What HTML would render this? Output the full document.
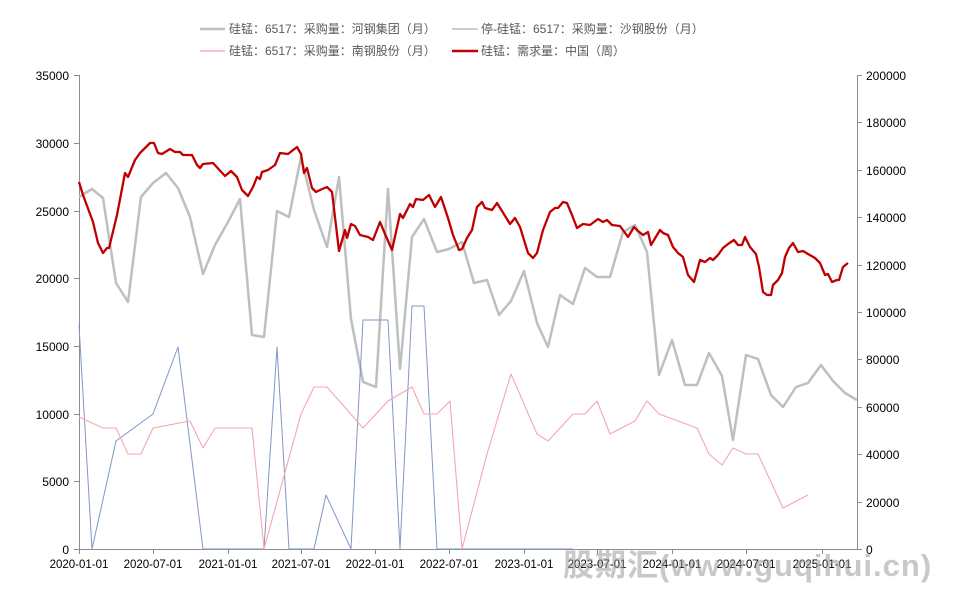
<!DOCTYPE html>
<html><head><meta charset="utf-8"><style>
html,body{margin:0;padding:0;background:#fff;}
svg{display:block;}
text{font-family:"Liberation Sans","Noto Sans CJK SC",sans-serif;}
</style></head><body>
<svg width="962" height="594" viewBox="0 0 962 594" xmlns="http://www.w3.org/2000/svg">
<!-- legend -->
<g font-size="12" fill="#595959">
<line x1="200" y1="29" x2="225" y2="29" stroke="#bfbfbf" stroke-width="2.5"/>
<text x="229" y="33">硅锰：6517：采购量：河钢集团（月）</text>
<line x1="452" y1="29" x2="478" y2="29" stroke="#b4bccb" stroke-width="1.5"/>
<text x="481" y="33">停-硅锰：6517：采购量：沙钢股份（月）</text>
<line x1="200" y1="51" x2="225" y2="51" stroke="#f4a6b0" stroke-width="1.2"/>
<text x="229" y="55">硅锰：6517：采购量：南钢股份（月）</text>
<line x1="452" y1="51" x2="478" y2="51" stroke="#c00000" stroke-width="2.5"/>
<text x="481" y="55">硅锰：需求量：中国（周）</text>
</g>
<!-- axes -->
<g stroke="#8c8c8c" stroke-width="1">
<line x1="79.5" y1="75" x2="79.5" y2="549"/>
<line x1="857.5" y1="75" x2="857.5" y2="549"/>
<line x1="79" y1="549.5" x2="857" y2="549.5"/>
<line x1="74" y1="75.5" x2="79" y2="75.5"/><line x1="74" y1="143.5" x2="79" y2="143.5"/><line x1="74" y1="211.5" x2="79" y2="211.5"/><line x1="74" y1="278.5" x2="79" y2="278.5"/><line x1="74" y1="346.5" x2="79" y2="346.5"/><line x1="74" y1="414.5" x2="79" y2="414.5"/><line x1="74" y1="481.5" x2="79" y2="481.5"/><line x1="74" y1="549.5" x2="79" y2="549.5"/>
<line x1="857" y1="75.5" x2="862" y2="75.5"/><line x1="857" y1="122.5" x2="862" y2="122.5"/><line x1="857" y1="170.5" x2="862" y2="170.5"/><line x1="857" y1="217.5" x2="862" y2="217.5"/><line x1="857" y1="265.5" x2="862" y2="265.5"/><line x1="857" y1="312.5" x2="862" y2="312.5"/><line x1="857" y1="359.5" x2="862" y2="359.5"/><line x1="857" y1="407.5" x2="862" y2="407.5"/><line x1="857" y1="454.5" x2="862" y2="454.5"/><line x1="857" y1="502.5" x2="862" y2="502.5"/><line x1="857" y1="549.5" x2="862" y2="549.5"/>
<line x1="79.5" y1="549" x2="79.5" y2="554"/><line x1="153.5" y1="549" x2="153.5" y2="554"/><line x1="228.5" y1="549" x2="228.5" y2="554"/><line x1="301.5" y1="549" x2="301.5" y2="554"/><line x1="375.5" y1="549" x2="375.5" y2="554"/><line x1="449.5" y1="549" x2="449.5" y2="554"/><line x1="524.5" y1="549" x2="524.5" y2="554"/><line x1="597.5" y1="549" x2="597.5" y2="554"/><line x1="672.5" y1="549" x2="672.5" y2="554"/><line x1="746.5" y1="549" x2="746.5" y2="554"/><line x1="822.5" y1="549" x2="822.5" y2="554"/>
</g>
<g font-size="12" fill="#000" text-anchor="end">
<text x="69" y="80">35000</text><text x="69" y="148">30000</text><text x="69" y="216">25000</text><text x="69" y="283">20000</text><text x="69" y="351">15000</text><text x="69" y="419">10000</text><text x="69" y="486">5000</text><text x="69" y="554">0</text>
</g>
<g font-size="12" fill="#000">
<text x="866" y="80">200000</text><text x="866" y="127">180000</text><text x="866" y="175">160000</text><text x="866" y="222">140000</text><text x="866" y="270">120000</text><text x="866" y="317">100000</text><text x="866" y="364">80000</text><text x="866" y="412">60000</text><text x="866" y="459">40000</text><text x="866" y="507">20000</text><text x="866" y="554">0</text>
</g>
<g font-size="11.5" fill="#000" text-anchor="middle">
<text x="79" y="568">2020-01-01</text><text x="153" y="568">2020-07-01</text><text x="228" y="568">2021-01-01</text><text x="301" y="568">2021-07-01</text><text x="375" y="568">2022-01-01</text><text x="449" y="568">2022-07-01</text><text x="524" y="568">2023-01-01</text><text x="597" y="568">2023-07-01</text><text x="672" y="568">2024-01-01</text><text x="746" y="568">2024-07-01</text><text x="822" y="568">2025-01-01</text>
</g>
<!-- gray 河钢 -->
<polyline fill="none" stroke="#bfbfbf" stroke-width="2.5" stroke-linejoin="round" points="79,197 92,189 103,198 116,283 128,302 141,197 153,183 166,173 178,188 190,217 203,274 215,245 228,222 240,199 252,335 264,337 277,211 289,217 301,157 314,210 327,247 339,177 351,319 363,382 376,387 388,189 400,369 412,237 424,219 437,252 449,249 462,242 474,283 487,280 499,315 511,301 524,271 537,323 548,347 560,295 573,304 585,268 597,277 610,277 623,232 635,225 647,252 659,375 672,340 685,385 697,385 709,353 722,376 733,440 746,355 758,359 771,395 783,407 796,387 808,383 821,365 833,381 845,393 857,400"/>
<!-- blue 沙钢 -->
<polyline fill="none" stroke="#7f97c4" stroke-width="1" stroke-linejoin="round" points="79,325 92,549 116,441 153,414 178,347 203,549 264,549 277,347 289,549 314,549 326,495 351,549 363,320 388,320 400,549 412,306 424,306 437,549 573,549"/>
<!-- pink 南钢 -->
<polyline fill="none" stroke="#f4a6b0" stroke-width="1.1" stroke-linejoin="round" points="79,417 103,428 116,428 128,454 141,454 153,428 190,421 203,448 215,428 252,428 264,549 301,414 314,387 327,387 363,428 388,401 412,387 424,414 437,414 450,401 462,549 487,454 511,374 537,434 548,441 573,414 585,414 597,401 610,434 635,421 647,401 659,414 697,428 709,454 722,465 733,448 746,454 758,454 783,508 808,495"/>
<!-- red 需求量 -->
<polyline fill="none" stroke="#c00000" stroke-width="2.3" stroke-linejoin="round" points="79,182 83,195 93,222 98,243 103,253 107,248 109,248 117,215 125,173 128,177 135,160 140,153 145,148 150,143 154,143 158,153 162,154 170,149 175,152 180,152 183,155 192,155 197,165 200,168 203,164 213,163 225,176 231,171 237,177 242,190 248,196 253,187 257,177 260,179 262,172 268,170 275,165 280,153 288,154 297,147 301,154 304,173 307,168 312,188 316,192 320,190 327,187 332,192 339,251 345,230 347,238 351,224 355,226 360,235 368,237 373,240 380,222 385,234 392,250 400,214 403,218 410,204 413,207 416,199 423,200 429,195 435,207 441,197 448,218 453,235 459,250 462,249 467,238 472,230 477,207 482,202 485,208 492,210 497,203 502,211 510,224 515,218 520,227 524,240 528,253 533,258 537,253 543,230 550,212 555,208 558,208 563,202 567,203 572,215 577,228 583,224 590,225 598,219 603,222 607,220 612,225 620,226 628,237 634,227 638,231 643,235 648,232 651,245 660,230 663,233 668,235 673,247 678,253 683,257 688,275 694,282 700,260 705,262 710,258 713,260 718,255 723,248 728,244 734,240 738,245 742,245 745,237 750,247 756,254 759,267 763,292 767,295 771,295 773,285 778,280 782,273 785,257 789,248 793,243 798,252 803,251 808,254 815,258 820,263 825,275 828,274 832,282 837,280 839,280 843,267 848,263"/>
<!-- watermark -->
<text x="563" y="576" font-size="31" font-weight="bold" fill="#9a9a9a" fill-opacity="0.55" font-family="'Liberation Sans','Noto Sans CJK SC',sans-serif" letter-spacing="1">股期汇(www.guqihui.cn)</text>
</svg>
</body></html>
